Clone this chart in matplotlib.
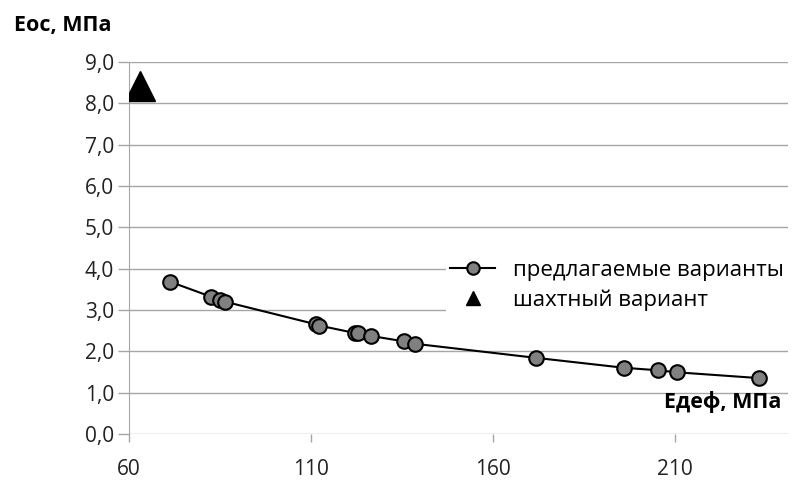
import matplotlib
matplotlib.use("Agg")
import matplotlib.pyplot as plt
from matplotlib.ticker import FuncFormatter

plt.rcParams['font.family'] = ['Open Sans', 'DejaVu Sans']

# предлагаемые варианты
x = [71.3, 82.5, 85.0, 86.3, 111.4, 112.3, 122.1, 122.8, 126.5, 135.4, 138.6, 171.8, 196.0, 205.2, 210.6, 233.1]
y = [3.68, 3.32, 3.25, 3.20, 2.65, 2.62, 2.44, 2.44, 2.37, 2.24, 2.18, 1.84, 1.60, 1.54, 1.49, 1.35]
# шахтный вариант
xs = [63.0]
ys = [8.42]

fig = plt.figure(figsize=(7.92, 4.8), dpi=100)
ax = fig.add_axes([0.163, 0.096, 0.832, 0.775])

ax.plot(x, y, '-o', color='black', lw=1.5, ms=10.5, mfc='#808080', mec='black', mew=1.5,
        label='предлагаемые варианты', zorder=3)
ax.plot(xs, ys, '^', color='black', ms=22, label='шахтный вариант', zorder=3)

ax.set_xlim(60, 241)
ax.set_ylim(0, 9)
ax.set_xticks([60, 110, 160, 210])
ax.set_yticks(range(10))
ax.yaxis.set_major_formatter(FuncFormatter(lambda v, p: f'{v:.1f}'.replace('.', ',')))
ax.grid(axis='y', color='#a6a6a6', lw=1)
ax.set_axisbelow(True)
for s in ['top', 'right', 'bottom']:
    ax.spines[s].set_visible(False)
ax.spines['left'].set_color('#a6a6a6')
ax.tick_params(axis='both', colors='#a6a6a6', labelcolor='#222222', labelsize=15, width=1)
ax.tick_params(axis='y', length=8, pad=3)
ax.tick_params(axis='x', length=6, pad=12)

fig.text(0.018, 0.947, 'Еос, МПа', fontsize=15.5, fontweight='bold', ha='left', va='center')
ax.text(0.99, 0.055, 'Едеф, МПа', transform=ax.transAxes, fontsize=15.5, fontweight='bold',
        ha='right', va='bottom')

leg = ax.legend(loc='upper right', bbox_to_anchor=(1.0, 0.48), frameon=True, fontsize=16,
                handlelength=2.0, handletextpad=0.8, labelspacing=0.4, borderaxespad=0,
                borderpad=0.2, fancybox=False)
leg.get_frame().set_edgecolor('none')
leg.get_frame().set_facecolor('white')
leg.get_frame().set_alpha(1)
leg.legend_handles[0].set_markersize(9)
leg.legend_handles[1].set_markersize(10)

fig.savefig('out.png', dpi=100)
